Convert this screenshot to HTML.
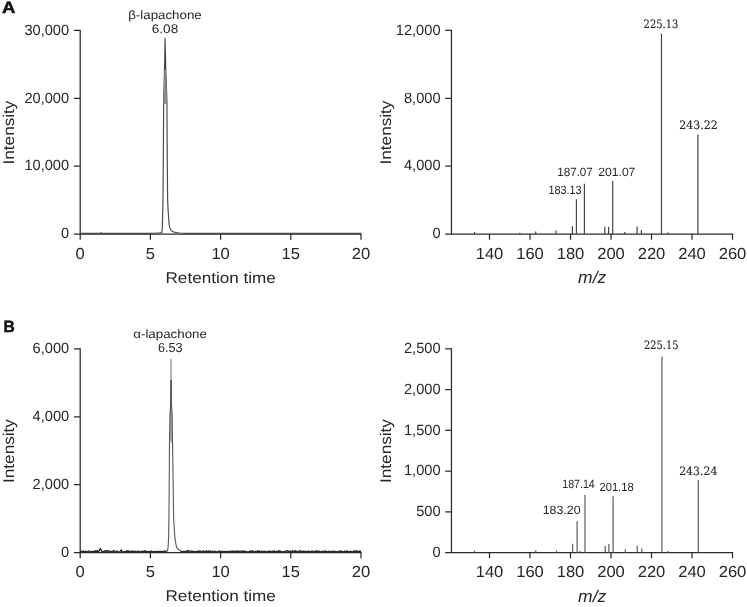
<!DOCTYPE html>
<html lang="en"><head><meta charset="utf-8"><title>Figure</title>
<style>html,body{margin:0;padding:0;background:#fff}svg{display:block}</style></head>
<body><svg width="747" height="607" viewBox="0 0 747 607" text-rendering="geometricPrecision">
<rect width="747" height="607" fill="#fff"/>
<path d="M80.20 29.82V234.04H361.62" fill="none" stroke="#2b2b2b" stroke-width="1.25"/>
<path d="M73.90 30.44H80.20M73.90 98.31H80.20M73.90 166.17H80.20M73.90 234.04H80.20M80.20 234.04V239.74M150.40 234.04V239.74M220.60 234.04V239.74M290.80 234.04V239.74M361.00 234.04V239.74" fill="none" stroke="#2b2b2b" stroke-width="1.25"/>
<text transform="translate(24.38 34.64) scale(1.0450 1.0600)" font-family="&quot;Liberation Sans&quot;, Arial, Helvetica, sans-serif" font-size="14" fill="#262626">30,000</text>
<text transform="translate(24.38 102.51) scale(1.0450 1.0600)" font-family="&quot;Liberation Sans&quot;, Arial, Helvetica, sans-serif" font-size="14" fill="#262626">20,000</text>
<text transform="translate(24.38 170.37) scale(1.0450 1.0600)" font-family="&quot;Liberation Sans&quot;, Arial, Helvetica, sans-serif" font-size="14" fill="#262626">10,000</text>
<text transform="translate(61.02 238.24) scale(1.0450 1.0600)" font-family="&quot;Liberation Sans&quot;, Arial, Helvetica, sans-serif" font-size="14" fill="#262626">0</text>
<text transform="translate(80.20 258.60) scale(1.035 1)" text-anchor="middle" font-family="&quot;Liberation Sans&quot;, Arial, Helvetica, sans-serif" font-size="16" fill="#262626">0</text>
<text transform="translate(150.40 258.60) scale(1.035 1)" text-anchor="middle" font-family="&quot;Liberation Sans&quot;, Arial, Helvetica, sans-serif" font-size="16" fill="#262626">5</text>
<text transform="translate(220.60 258.60) scale(1.035 1)" text-anchor="middle" font-family="&quot;Liberation Sans&quot;, Arial, Helvetica, sans-serif" font-size="16" fill="#262626">10</text>
<text transform="translate(290.80 258.60) scale(1.035 1)" text-anchor="middle" font-family="&quot;Liberation Sans&quot;, Arial, Helvetica, sans-serif" font-size="16" fill="#262626">15</text>
<text transform="translate(361.00 258.60) scale(1.035 1)" text-anchor="middle" font-family="&quot;Liberation Sans&quot;, Arial, Helvetica, sans-serif" font-size="16" fill="#262626">20</text>
<text transform="translate(165.52 282.80) scale(1.1031 1.0000)" font-family="&quot;Liberation Sans&quot;, Arial, Helvetica, sans-serif" font-size="15.5" fill="#262626">Retention time</text>
<text transform="translate(13.60 164.49) rotate(-90) scale(1.1076 1.0000)" font-family="&quot;Liberation Sans&quot;, Arial, Helvetica, sans-serif" font-size="15.5" fill="#262626">Intensity</text>
<path d="M451.45 29.82V234.04H733.12" fill="none" stroke="#2b2b2b" stroke-width="1.25"/>
<path d="M445.15 30.44H451.45M445.15 98.31H451.45M445.15 166.17H451.45M445.15 234.04H451.45M489.50 234.04V239.74M530.00 234.04V239.74M570.50 234.04V239.74M611.00 234.04V239.74M651.50 234.04V239.74M692.00 234.04V239.74M732.50 234.04V239.74" fill="none" stroke="#2b2b2b" stroke-width="1.25"/>
<text transform="translate(395.78 34.64) scale(1.0450 1.0600)" font-family="&quot;Liberation Sans&quot;, Arial, Helvetica, sans-serif" font-size="14" fill="#262626">12,000</text>
<text transform="translate(403.95 102.51) scale(1.0450 1.0600)" font-family="&quot;Liberation Sans&quot;, Arial, Helvetica, sans-serif" font-size="14" fill="#262626">8,000</text>
<text transform="translate(403.95 170.37) scale(1.0450 1.0600)" font-family="&quot;Liberation Sans&quot;, Arial, Helvetica, sans-serif" font-size="14" fill="#262626">4,000</text>
<text transform="translate(432.42 238.24) scale(1.0450 1.0600)" font-family="&quot;Liberation Sans&quot;, Arial, Helvetica, sans-serif" font-size="14" fill="#262626">0</text>
<text transform="translate(489.50 258.60) scale(1.035 1)" text-anchor="middle" font-family="&quot;Liberation Sans&quot;, Arial, Helvetica, sans-serif" font-size="16" fill="#262626">140</text>
<text transform="translate(530.00 258.60) scale(1.035 1)" text-anchor="middle" font-family="&quot;Liberation Sans&quot;, Arial, Helvetica, sans-serif" font-size="16" fill="#262626">160</text>
<text transform="translate(570.50 258.60) scale(1.035 1)" text-anchor="middle" font-family="&quot;Liberation Sans&quot;, Arial, Helvetica, sans-serif" font-size="16" fill="#262626">180</text>
<text transform="translate(611.00 258.60) scale(1.035 1)" text-anchor="middle" font-family="&quot;Liberation Sans&quot;, Arial, Helvetica, sans-serif" font-size="16" fill="#262626">200</text>
<text transform="translate(651.50 258.60) scale(1.035 1)" text-anchor="middle" font-family="&quot;Liberation Sans&quot;, Arial, Helvetica, sans-serif" font-size="16" fill="#262626">220</text>
<text transform="translate(692.00 258.60) scale(1.035 1)" text-anchor="middle" font-family="&quot;Liberation Sans&quot;, Arial, Helvetica, sans-serif" font-size="16" fill="#262626">240</text>
<text transform="translate(732.50 258.60) scale(1.035 1)" text-anchor="middle" font-family="&quot;Liberation Sans&quot;, Arial, Helvetica, sans-serif" font-size="16" fill="#262626">260</text>
<text transform="translate(578.08 283.10) scale(1.0294 1.0000)" font-family="&quot;Liberation Sans&quot;, Arial, Helvetica, sans-serif" font-size="17" font-style="italic" fill="#262626">m/z</text>
<text transform="translate(391.20 164.49) rotate(-90) scale(1.1076 1.0000)" font-family="&quot;Liberation Sans&quot;, Arial, Helvetica, sans-serif" font-size="15.5" fill="#262626">Intensity</text>
<path d="M80.20 348.31V552.54H361.62" fill="none" stroke="#2b2b2b" stroke-width="1.25"/>
<path d="M73.90 348.94H80.20M73.90 416.81H80.20M73.90 484.67H80.20M73.90 552.54H80.20M80.20 552.54V558.24M150.40 552.54V558.24M220.60 552.54V558.24M290.80 552.54V558.24M361.00 552.54V558.24" fill="none" stroke="#2b2b2b" stroke-width="1.25"/>
<text transform="translate(32.55 353.14) scale(1.0450 1.0600)" font-family="&quot;Liberation Sans&quot;, Arial, Helvetica, sans-serif" font-size="14" fill="#262626">6,000</text>
<text transform="translate(32.55 421.01) scale(1.0450 1.0600)" font-family="&quot;Liberation Sans&quot;, Arial, Helvetica, sans-serif" font-size="14" fill="#262626">4,000</text>
<text transform="translate(32.55 488.87) scale(1.0450 1.0600)" font-family="&quot;Liberation Sans&quot;, Arial, Helvetica, sans-serif" font-size="14" fill="#262626">2,000</text>
<text transform="translate(61.02 556.74) scale(1.0450 1.0600)" font-family="&quot;Liberation Sans&quot;, Arial, Helvetica, sans-serif" font-size="14" fill="#262626">0</text>
<text transform="translate(80.20 577.40) scale(1.035 1)" text-anchor="middle" font-family="&quot;Liberation Sans&quot;, Arial, Helvetica, sans-serif" font-size="16" fill="#262626">0</text>
<text transform="translate(150.40 577.40) scale(1.035 1)" text-anchor="middle" font-family="&quot;Liberation Sans&quot;, Arial, Helvetica, sans-serif" font-size="16" fill="#262626">5</text>
<text transform="translate(220.60 577.40) scale(1.035 1)" text-anchor="middle" font-family="&quot;Liberation Sans&quot;, Arial, Helvetica, sans-serif" font-size="16" fill="#262626">10</text>
<text transform="translate(290.80 577.40) scale(1.035 1)" text-anchor="middle" font-family="&quot;Liberation Sans&quot;, Arial, Helvetica, sans-serif" font-size="16" fill="#262626">15</text>
<text transform="translate(361.00 577.40) scale(1.035 1)" text-anchor="middle" font-family="&quot;Liberation Sans&quot;, Arial, Helvetica, sans-serif" font-size="16" fill="#262626">20</text>
<text transform="translate(165.52 601.30) scale(1.1031 1.0000)" font-family="&quot;Liberation Sans&quot;, Arial, Helvetica, sans-serif" font-size="15.5" fill="#262626">Retention time</text>
<text transform="translate(13.60 482.99) rotate(-90) scale(1.1076 1.0000)" font-family="&quot;Liberation Sans&quot;, Arial, Helvetica, sans-serif" font-size="15.5" fill="#262626">Intensity</text>
<path d="M451.45 348.31V552.54H733.12" fill="none" stroke="#2b2b2b" stroke-width="1.25"/>
<path d="M445.15 348.94H451.45M445.15 389.66H451.45M445.15 430.38H451.45M445.15 471.10H451.45M445.15 511.82H451.45M445.15 552.54H451.45M489.50 552.54V558.24M530.00 552.54V558.24M570.50 552.54V558.24M611.00 552.54V558.24M651.50 552.54V558.24M692.00 552.54V558.24M732.50 552.54V558.24" fill="none" stroke="#2b2b2b" stroke-width="1.25"/>
<text transform="translate(403.95 353.14) scale(1.0450 1.0600)" font-family="&quot;Liberation Sans&quot;, Arial, Helvetica, sans-serif" font-size="14" fill="#262626">2,500</text>
<text transform="translate(403.95 393.86) scale(1.0450 1.0600)" font-family="&quot;Liberation Sans&quot;, Arial, Helvetica, sans-serif" font-size="14" fill="#262626">2,000</text>
<text transform="translate(403.95 434.58) scale(1.0450 1.0600)" font-family="&quot;Liberation Sans&quot;, Arial, Helvetica, sans-serif" font-size="14" fill="#262626">1,500</text>
<text transform="translate(403.95 475.30) scale(1.0450 1.0600)" font-family="&quot;Liberation Sans&quot;, Arial, Helvetica, sans-serif" font-size="14" fill="#262626">1,000</text>
<text transform="translate(416.16 516.02) scale(1.0450 1.0600)" font-family="&quot;Liberation Sans&quot;, Arial, Helvetica, sans-serif" font-size="14" fill="#262626">500</text>
<text transform="translate(432.42 556.74) scale(1.0450 1.0600)" font-family="&quot;Liberation Sans&quot;, Arial, Helvetica, sans-serif" font-size="14" fill="#262626">0</text>
<text transform="translate(489.50 577.40) scale(1.035 1)" text-anchor="middle" font-family="&quot;Liberation Sans&quot;, Arial, Helvetica, sans-serif" font-size="16" fill="#262626">140</text>
<text transform="translate(530.00 577.40) scale(1.035 1)" text-anchor="middle" font-family="&quot;Liberation Sans&quot;, Arial, Helvetica, sans-serif" font-size="16" fill="#262626">160</text>
<text transform="translate(570.50 577.40) scale(1.035 1)" text-anchor="middle" font-family="&quot;Liberation Sans&quot;, Arial, Helvetica, sans-serif" font-size="16" fill="#262626">180</text>
<text transform="translate(611.00 577.40) scale(1.035 1)" text-anchor="middle" font-family="&quot;Liberation Sans&quot;, Arial, Helvetica, sans-serif" font-size="16" fill="#262626">200</text>
<text transform="translate(651.50 577.40) scale(1.035 1)" text-anchor="middle" font-family="&quot;Liberation Sans&quot;, Arial, Helvetica, sans-serif" font-size="16" fill="#262626">220</text>
<text transform="translate(692.00 577.40) scale(1.035 1)" text-anchor="middle" font-family="&quot;Liberation Sans&quot;, Arial, Helvetica, sans-serif" font-size="16" fill="#262626">240</text>
<text transform="translate(732.50 577.40) scale(1.035 1)" text-anchor="middle" font-family="&quot;Liberation Sans&quot;, Arial, Helvetica, sans-serif" font-size="16" fill="#262626">260</text>
<text transform="translate(578.08 601.60) scale(1.0294 1.0000)" font-family="&quot;Liberation Sans&quot;, Arial, Helvetica, sans-serif" font-size="17" font-style="italic" fill="#262626">m/z</text>
<text transform="translate(391.20 482.99) rotate(-90) scale(1.1076 1.0000)" font-family="&quot;Liberation Sans&quot;, Arial, Helvetica, sans-serif" font-size="15.5" fill="#262626">Intensity</text>
<text stroke="#111" stroke-width="0.5" transform="translate(1.96 13.30) scale(1.1628 1.0300)" font-family="&quot;Liberation Sans&quot;, Arial, Helvetica, sans-serif" font-size="16" font-weight="bold" fill="#111">A</text>
<text stroke="#111" stroke-width="0.5" transform="translate(3.46 332.00) scale(0.9744 1.0300)" font-family="&quot;Liberation Sans&quot;, Arial, Helvetica, sans-serif" font-size="16" font-weight="bold" fill="#111">B</text>
<text transform="translate(128.20 19.40) scale(1.1088 1.0000)" font-family="&quot;Liberation Sans&quot;, Arial, Helvetica, sans-serif" font-size="12" fill="#262626">β-lapachone</text>
<text transform="translate(151.82 33.20) scale(1.0825 1.0000)" font-family="&quot;Liberation Sans&quot;, Arial, Helvetica, sans-serif" font-size="12.5" fill="#262626">6.08</text>
<text transform="translate(133.24 338.20) scale(1.1111 1.0000)" font-family="&quot;Liberation Sans&quot;, Arial, Helvetica, sans-serif" font-size="12" fill="#262626">α-lapachone</text>
<text transform="translate(157.99 352.30) scale(0.9699 1.0000)" font-family="&quot;Liberation Sans&quot;, Arial, Helvetica, sans-serif" font-size="13" fill="#262626">6.53</text>
<polyline fill="none" stroke="#464646" stroke-width="1.15" stroke-linejoin="round" points="80.50,233.40 100.00,233.40 101.00,232.80 102.00,233.40 150.00,233.40 156.00,233.10 160.00,232.80 161.70,232.60 162.20,229.60 162.50,219.80 163.00,200.00 163.30,160.00 163.70,100.00 164.50,70.00 165.10,38.20 165.80,70.00 166.90,100.00 167.25,160.00 167.66,200.00 167.92,206.60 168.32,213.20 168.78,219.80 169.24,225.00 169.77,227.70 170.56,229.65 171.75,230.97 173.72,231.96 176.36,232.60 179.65,232.95 184.30,233.30 361.00,233.40"/>
<polygon fill="#8c8c8c" points="164.5,70 163.6,100 163.5,104 167.1,104 167.0,100 165.8,70"/>
<polygon fill="#a8a8a8" points="170.6,404 170.0,415 169.5,440 169.5,447 170.6,440 172.5,447 172.5,440 172.1,415 171.5,404"/>
<line x1="171.05" y1="358.7" x2="171.05" y2="381" stroke="#858585" stroke-width="1.2"/>
<line x1="171.05" y1="380" x2="171.1" y2="407" stroke="#383838" stroke-width="1.3"/>
<polyline fill="none" stroke="#262626" stroke-width="1.3" stroke-linejoin="round" points="80.50,551.89 81.00,551.20 81.50,551.39 82.00,551.35 82.50,551.79 83.00,551.79 83.50,550.81 84.00,551.86 84.50,551.92 85.00,551.51 85.50,551.27 86.00,551.93 86.50,551.60 87.00,551.37 87.50,551.73 88.00,551.69 88.50,551.15 89.00,551.04 89.50,550.97 90.00,551.81 90.50,551.85 91.00,551.76 91.50,551.91 92.00,551.15 92.50,551.90 93.00,551.81 93.50,551.50 94.00,551.44 94.50,551.71 95.00,550.74 95.50,551.65 96.00,550.63 96.50,551.10 97.00,551.29 97.50,550.63 98.00,551.47 98.50,551.75 99.00,551.33 99.50,550.03 100.00,548.73 100.50,548.47 101.00,549.77 101.50,551.07 102.00,551.59 102.50,551.36 103.00,551.92 103.50,551.48 104.00,551.31 104.50,550.83 105.00,551.29 105.50,551.38 106.00,550.69 106.50,550.81 107.00,550.50 107.50,551.78 108.00,551.63 108.50,550.96 109.00,550.76 109.50,551.31 110.00,551.51 110.50,551.86 111.00,551.55 111.50,551.57 112.00,551.27 112.50,551.90 113.00,551.74 113.50,550.85 114.00,550.51 114.50,551.03 115.00,551.38 115.50,551.66 116.00,551.77 116.50,551.67 117.00,550.96 117.50,551.82 118.00,551.82 118.50,551.81 119.00,551.83 119.50,551.84 120.00,551.42 120.50,550.71 121.00,550.80 121.50,549.79 122.00,551.88 122.50,551.86 123.00,551.73 123.50,551.83 124.00,551.86 124.50,551.75 125.00,551.37 125.50,551.68 126.00,551.73 126.50,550.79 127.00,551.63 127.50,551.36 128.00,550.56 128.50,551.48 129.00,551.60 129.50,551.25 130.00,551.77 130.50,551.45 131.00,551.32 131.50,551.17 132.00,551.65 132.50,551.29 133.00,551.69 133.50,551.08 134.00,551.55 134.50,551.91 135.00,551.44 135.50,551.23 136.00,551.85 136.50,551.86 137.00,551.92 137.50,551.27 138.00,551.55 138.50,551.13 139.00,551.85 139.50,551.81 140.00,551.79 140.50,551.48 141.00,551.47 141.50,551.71 142.00,551.44 142.50,551.69 143.00,551.00 143.50,551.74 144.00,551.92 144.50,551.26 145.00,550.57 145.50,551.95 146.00,551.29 146.50,551.51 147.00,551.66 147.50,551.61 148.00,551.56 148.50,551.40 149.00,551.36 149.50,551.77 150.00,551.40 150.50,551.93 151.00,551.81 151.50,551.06 152.00,551.54 152.50,551.79 153.00,551.55 153.50,551.80 154.00,551.53 154.50,551.70 155.00,551.36 155.50,551.86 156.00,551.69 156.50,551.71 157.00,551.46 157.50,551.63 158.00,551.39 158.50,551.73 159.00,551.66 159.50,551.50 160.00,551.21 160.50,551.46 161.00,551.52 161.50,551.90 162.00,551.65 162.50,551.57 163.00,551.88 163.50,551.55 164.00,550.88 164.50,551.75 165.00,551.51 165.50,551.65 166.00,551.15 167.50,551.00"/>
<polyline fill="none" stroke="#585858" stroke-width="1.1" stroke-linejoin="round" points="167.50,551.00 168.05,547.65 168.64,537.80 168.90,518.00 169.20,490.00 169.50,440.00 170.00,415.00 170.60,404.00 171.00,380.00 171.10,380.00 171.50,404.00 172.10,415.00 172.50,440.00 173.00,475.00 173.60,516.00 174.20,527.90 174.90,537.80 175.96,544.40 176.75,547.65 178.40,549.60 180.70,550.90"/>
<polyline fill="none" stroke="#262626" stroke-width="1.3" stroke-linejoin="round" points="180.70,550.90 181.20,551.76 181.70,551.43 182.20,551.61 182.70,551.59 183.20,551.82 183.70,551.49 184.20,551.60 184.70,551.44 185.20,551.41 185.70,551.65 186.20,551.64 186.70,551.78 187.20,550.51 187.70,551.91 188.20,550.66 188.70,550.74 189.20,550.60 189.70,551.36 190.20,551.57 190.70,551.76 191.20,551.92 191.70,550.81 192.20,551.57 192.70,551.33 193.20,551.82 193.70,551.42 194.20,551.92 194.70,551.73 195.20,551.53 195.70,551.69 196.20,551.88 196.70,551.78 197.20,551.19 197.70,551.42 198.20,550.82 198.70,551.36 199.20,551.31 199.70,551.49 200.20,550.96 200.70,551.87 201.20,551.71 201.70,551.50 202.20,551.57 202.70,551.32 203.20,550.73 203.70,551.22 204.20,551.53 204.70,551.59 205.20,551.93 205.70,550.76 206.20,550.91 206.70,551.80 207.20,551.71 207.70,551.63 208.20,550.87 208.70,551.71 209.20,551.45 209.70,551.01 210.20,550.99 210.70,551.44 211.20,551.92 211.70,551.88 212.20,551.12 212.70,551.09 213.20,551.50 213.70,551.80 214.20,551.86 214.70,551.22 215.20,551.35 215.70,551.63 216.20,551.94 216.70,551.91 217.20,551.66 217.70,551.84 218.20,551.79 218.70,551.79 219.20,550.79 219.70,551.76 220.20,551.34 220.70,551.58 221.20,551.74 221.70,551.47 222.20,551.44 222.70,551.25 223.20,551.46 223.70,551.66 224.20,551.76 224.70,551.45 225.20,551.41 225.70,551.41 226.20,551.83 226.70,551.38 227.20,551.62 227.70,551.77 228.20,551.38 228.70,551.37 229.20,551.83 229.70,551.38 230.20,551.69 230.70,551.15 231.20,551.42 231.70,551.71 232.20,551.02 232.70,551.93 233.20,551.14 233.70,551.51 234.20,551.51 234.70,551.84 235.20,551.05 235.70,551.74 236.20,551.38 236.70,551.68 237.20,550.85 237.70,551.40 238.20,551.41 238.70,551.72 239.20,551.10 239.70,551.31 240.20,551.90 240.70,551.28 241.20,551.16 241.70,551.18 242.20,551.29 242.70,550.88 243.20,551.72 243.70,551.09 244.20,551.87 244.70,551.18 245.20,551.31 245.70,551.47 246.20,551.62 246.70,551.94 247.20,551.92 247.70,551.77 248.20,551.72 248.70,551.80 249.20,551.67 249.70,551.69 250.20,550.81 250.70,551.78 251.20,551.11 251.70,551.15 252.20,551.42 252.70,550.94 253.20,551.20 253.70,551.72 254.20,551.90 254.70,551.79 255.20,551.87 255.70,551.24 256.20,551.89 256.70,551.67 257.20,551.94 257.70,550.55 258.20,551.46 258.70,551.75 259.20,550.91 259.70,551.51 260.20,551.93 260.70,551.57 261.20,551.95 261.70,551.12 262.20,551.94 262.70,551.35 263.20,551.54 263.70,551.50 264.20,551.58 264.70,551.45 265.20,551.34 265.70,551.60 266.20,551.34 266.70,551.85 267.20,551.94 267.70,551.59 268.20,551.58 268.70,551.01 269.20,551.62 269.70,551.31 270.20,551.09 270.70,551.86 271.20,551.68 271.70,551.74 272.20,551.13 272.70,551.39 273.20,551.32 273.70,551.59 274.20,551.05 274.70,551.62 275.20,551.77 275.70,551.51 276.20,551.70 276.70,551.19 277.20,551.78 277.70,551.55 278.20,551.41 278.70,550.56 279.20,551.68 279.70,551.05 280.20,550.94 280.70,551.34 281.20,551.54 281.70,551.71 282.20,551.92 282.70,551.82 283.20,551.37 283.70,551.87 284.20,551.68 284.70,551.45 285.20,551.50 285.70,551.02 286.20,550.81 286.70,550.50 287.20,551.15 287.70,551.85 288.20,550.83 288.70,551.72 289.20,551.62 289.70,551.26 290.20,551.00 290.70,551.84 291.20,551.57 291.70,551.47 292.20,551.79 292.70,550.43 293.20,551.53 293.70,551.86 294.20,551.86 294.70,551.00 295.20,551.27 295.70,550.60 296.20,551.68 296.70,551.60 297.20,551.78 297.70,551.52 298.20,551.59 298.70,551.08 299.20,551.14 299.70,550.95 300.20,551.91 300.70,550.75 301.20,551.71 301.70,551.37 302.20,551.92 302.70,551.70 303.20,551.00 303.70,551.32 304.20,551.80 304.70,551.41 305.20,551.16 305.70,551.51 306.20,551.41 306.70,551.93 307.20,551.31 307.70,551.68 308.20,551.75 308.70,551.18 309.20,551.38 309.70,551.78 310.20,551.66 310.70,551.87 311.20,551.81 311.70,551.07 312.20,551.00 312.70,551.14 313.20,551.72 313.70,551.80 314.20,551.41 314.70,551.74 315.20,551.81 315.70,550.95 316.20,551.70 316.70,551.09 317.20,551.33 317.70,551.05 318.20,551.85 318.70,550.95 319.20,551.08 319.70,551.73 320.20,551.66 320.70,551.88 321.20,551.39 321.70,551.93 322.20,551.77 322.70,551.06 323.20,551.60 323.70,551.80 324.20,551.43 324.70,551.28 325.20,551.41 325.70,550.81 326.20,551.78 326.70,551.70 327.20,551.65 327.70,551.81 328.20,551.48 328.70,551.11 329.20,551.33 329.70,551.51 330.20,551.55 330.70,551.42 331.20,551.81 331.70,551.60 332.20,551.09 332.70,551.55 333.20,551.93 333.70,551.20 334.20,551.91 334.70,551.39 335.20,551.89 335.70,551.36 336.20,551.83 336.70,551.82 337.20,551.50 337.70,551.94 338.20,551.88 338.70,551.39 339.20,551.65 339.70,551.42 340.20,550.95 340.70,551.68 341.20,551.25 341.70,551.02 342.20,551.59 342.70,551.64 343.20,551.71 343.70,551.78 344.20,551.77 344.70,551.00 345.20,551.80 345.70,551.59 346.20,551.09 346.70,551.46 347.20,551.55 347.70,551.04 348.20,551.67 348.70,551.77 349.20,551.63 349.70,551.72 350.20,551.18 350.70,551.82 351.20,551.81 351.70,551.52 352.20,551.92 352.70,551.80 353.20,551.54 353.70,550.76 354.20,551.39 354.70,551.77 355.20,551.20 355.70,551.69 356.20,550.85 356.70,550.72 357.20,551.75 357.70,551.48 358.20,551.51 358.70,551.42 359.20,551.17 359.70,551.38 360.20,550.92 360.70,551.93"/>
<path d="M474.50 234.04V232.00M519.75 234.04V232.80M535.75 234.04V231.50M555.90 234.04V230.60M572.40 234.04V226.00M576.40 234.04V199.20M584.40 234.04V183.80M604.80 234.04V226.80M608.60 234.04V226.80M612.70 234.04V181.00M624.80 234.04V232.00M637.10 234.04V226.40M641.30 234.04V230.00M661.50 234.04V33.80M667.80 234.04V232.50M697.90 234.04V134.50" fill="none" stroke="#444" stroke-width="1.2"/>
<path d="M474.50 552.50V550.60M535.75 552.50V550.30M556.50 552.50V550.50M572.60 552.50V543.70M577.10 552.50V521.30M580.00 552.50V551.00M585.00 552.50V494.90M605.20 552.50V546.00M608.90 552.50V544.00M613.10 552.50V496.20M625.30 552.50V549.30M637.30 552.50V545.80M641.80 552.50V548.50M661.90 552.50V356.80M668.20 552.50V551.00M698.30 552.50V480.10" fill="none" stroke="#6a6a6a" stroke-width="1.3"/>
<text transform="translate(643.60 28.00) scale(0.8576 1.0000)" font-family="&quot;DejaVu Serif&quot;, &quot;Liberation Serif&quot;, serif" font-size="11.6" fill="#262626" stroke="#333" stroke-width="0.15">225.13</text>
<text transform="translate(679.23 128.80) scale(0.9497 1.0000)" font-family="&quot;DejaVu Serif&quot;, &quot;Liberation Serif&quot;, serif" font-size="11.6" fill="#262626" stroke="#333" stroke-width="0.15">243.22</text>
<text transform="translate(557.19 175.50) scale(0.9708 1.0000)" font-family="&quot;Liberation Sans&quot;, Arial, Helvetica, sans-serif" font-size="12" fill="#262626">187.07</text>
<text transform="translate(598.37 175.50) scale(1.0074 1.0000)" font-family="&quot;Liberation Sans&quot;, Arial, Helvetica, sans-serif" font-size="12" fill="#262626">201.07</text>
<text transform="translate(548.45 193.50) scale(0.9037 1.0000)" font-family="&quot;Liberation Sans&quot;, Arial, Helvetica, sans-serif" font-size="12" fill="#262626">183.13</text>
<text transform="translate(644.11 349.30) scale(0.8462 1.0000)" font-family="&quot;DejaVu Serif&quot;, &quot;Liberation Serif&quot;, serif" font-size="11.6" fill="#262626" stroke="#333" stroke-width="0.15">225.15</text>
<text transform="translate(679.14 475.00) scale(0.9412 1.0000)" font-family="&quot;DejaVu Serif&quot;, &quot;Liberation Serif&quot;, serif" font-size="11.6" fill="#262626" stroke="#333" stroke-width="0.15">243.24</text>
<text transform="translate(562.27 488.00) scale(0.8848 1.0000)" font-family="&quot;Liberation Sans&quot;, Arial, Helvetica, sans-serif" font-size="12" fill="#262626">187.14</text>
<text transform="translate(599.52 490.80) scale(0.9279 1.0000)" font-family="&quot;Liberation Sans&quot;, Arial, Helvetica, sans-serif" font-size="12" fill="#262626">201.18</text>
<text transform="translate(542.63 514.40) scale(1.0326 1.0000)" font-family="&quot;Liberation Sans&quot;, Arial, Helvetica, sans-serif" font-size="12" fill="#262626">183.20</text>
</svg></body></html>
